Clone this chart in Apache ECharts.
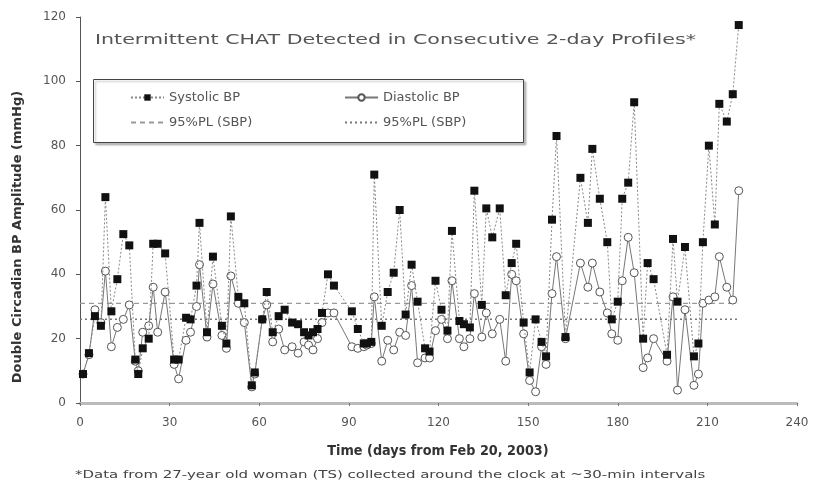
<!DOCTYPE html>
<html>
<head>
<meta charset="utf-8">
<script src="https://cdn.jsdelivr.net/npm/echarts@6/dist/echarts.min.js"></script>
<style>
  html, body { margin: 0; padding: 0; background: #fff; }
  #chart { width: 819px; height: 489px; }
</style>
</head>
<body>
<div id="chart"></div>
<script>
// days since Feb 20, 2003
var days = [1, 3, 5, 7, 8.5, 10.5, 12.5, 14.5, 16.5, 18.5,
  19.5, 21, 23, 24.5, 26, 28.5, 31.5, 33, 35.5, 37,
  39, 40, 42.5, 44.5, 47.5, 49, 50.5, 53, 55, 57.5,
  58.5, 61, 62.5, 64.5, 66.5, 68.5, 71, 73, 75, 76.5,
  78, 79.5, 81, 83, 85, 91, 93, 95, 96, 97.5,
  98.5, 101, 103, 105, 107, 109, 111, 113, 115.5, 117,
  119, 121, 123, 124.5, 127, 128.5, 130.5, 132, 134.5, 136,
  138, 140.5, 142.5, 144.5, 146, 148.5, 150.5, 152.5, 154.5, 156,
  158, 159.5, 162.5, 167.5, 170, 171.5, 174, 176.5, 178, 180,
  181.5, 183.5, 185.5, 188.5, 190, 192, 196.5, 198.5, 200, 202.5,
  205.5, 207, 208.5, 210.5, 212.5, 214, 216.5, 218.5, 220.5];

var systolic = [9, 15.5, 27, 24, 64, 28.5, 38.5, 52.5, 49, 13.5,
  9, 17, 20, 49.5, 49.5, 46.5, 13.5, 13.5, 26.5, 26,
  36.5, 56, 22, 45.5, 24, 18.5, 58, 33, 31, 5.5,
  9.5, 26, 34.5, 22, 27, 29, 25, 24.5, 22, 21,
  22, 23, 28, 40, 36.5, 28.5, 23, 18.5, 18.5, 19,
  71, 24, 34.5, 40.5, 60, 27.5, 43, 31.5, 17, 16,
  38, 29, 22.5, 53.5, 25.5, 24.5, 23.5, 66, 30.5, 60.5,
  51.5, 60.5, 33.5, 43.5, 49.5, 25, 9.5, 26, 19, 14.5,
  57, 83, 20.5, 70, 56, 79, 63.5, 50, 26, 31.5,
  63.5, 68.5, 93.5, 20, 43.5, 38.5, 15, 51, 31.5, 48.5,
  14.5, 18.5, 50, 80, 55.5, 93, 87.5, 96, 117.5];

var diastolic = [9, 15, 29, 25, 41, 17.5, 23.5, 26, 30.5, 13,
  10, 22, 24, 36, 22, 34.5, 12, 7.5, 19.5, 22,
  30, 43, 20.5, 37, 21, 17, 39.5, 31, 25, 5,
  9, 26, 30.5, 19, 23, 16.5, 17.5, 15.5, 19, 18,
  16.5, 20, 25, 28, 28, 17.5, 17, 17.5, 18, 18.5,
  33, 13, 19.5, 16.5, 22, 21, 36.5, 12.5, 14, 14,
  22.5, 26, 20, 38, 20, 17.5, 20, 34, 20.5, 28,
  21.5, 26, 13, 40, 38, 21.5, 7, 3.5, 17.5, 12,
  34, 45.5, 20, 43.5, 36, 43.5, 34.5, 28, 21.5, 19.5,
  38, 51.5, 40.5, 11, 14, 20, 13, 33, 4, 29,
  5.5, 9, 31, 32, 33, 45.5, 36, 32, 66];

// 95th percentile limits (level, drawn from day 0 to last profile)
var plLevels = [31, 26];
var plSpan = [0, 220];

var xTicks = [0, 240, 30];
var yTicks = [0, 120, 20];

var chart = echarts.init(document.getElementById('chart'));

function pairs(vals) {
  return days.map(function (d, i) { return [d, vals[i]]; });
}

var font = 'DejaVu Sans';

// one legend per item so the 2x2 box lines up
function legendItem(item, left, top) {
  return {
    data: [item],
    left: left, top: top, itemGap: 0, itemWidth: 33, itemHeight: 8,
    textStyle: { fontSize: 13, color: '#555', fontFamily: font },
    z: 5
  };
}

var option = {
  animation: false,
  backgroundColor: '#fff',
  textStyle: { fontFamily: font },
  graphic: [
    {
      type: 'rect', left: 93, top: 79,
      shape: { width: 430, height: 63 },
      style: { fill: '#fff', stroke: '#444', lineWidth: 1, shadowColor: 'rgba(0,0,0,0.25)', shadowOffsetX: 2, shadowOffsetY: 2, shadowBlur: 2 },
      z: 1
    },
    {
      type: 'text', x: 95, y: 40, scaleX: 1.42,
      style: { text: 'Intermittent CHAT Detected in Consecutive 2-day Profiles*', fontSize: 14.5, fill: '#555', fontFamily: font, textVerticalAlign: 'middle' }
    },
    {
      type: 'text', x: 18, y: 237, rotation: Math.PI / 2,
      style: { text: 'Double Circadian BP Amplitude (mmHg)', fontSize: 13, fontWeight: 'bold', fill: '#333', fontFamily: font, textAlign: 'center', textVerticalAlign: 'middle' }
    },
    {
      type: 'text', x: 438, y: 451, scaleX: 0.95,
      style: { text: 'Time (days from Feb 20, 2003)', fontSize: 13.5, fontWeight: 'bold', fill: '#333', fontFamily: font, textAlign: 'center', textVerticalAlign: 'middle' }
    },
    {
      type: 'text', x: 75, y: 475, scaleX: 1.5,
      style: { text: '*Data from 27-year old woman (TS) collected around the clock at ~30-min intervals', fontSize: 10, fill: '#444', fontFamily: font, textVerticalAlign: 'middle' }
    }
  ],
  legend: [
    legendItem('Systolic BP', 125, 86),
    legendItem('Diastolic BP', 339, 86),
    legendItem({ name: '95%PL (SBP)', itemStyle: { opacity: 0 } }, 125, 111),
    legendItem({ name: '95%PL (SBP) ', itemStyle: { opacity: 0 } }, 339, 111)
  ],
  grid: { left: 80, right: 22, top: 17, bottom: 86 },
  xAxis: {
    type: 'value',
    min: xTicks[0], max: xTicks[1], interval: xTicks[2],
    axisLine: { lineStyle: { color: '#bbb', width: 3 } },
    axisTick: { show: true, length: 3, lineStyle: { color: '#777' } },
    axisLabel: { fontSize: 12, color: '#555', margin: 14, fontFamily: font },
    splitLine: { show: false }
  },
  yAxis: {
    type: 'value',
    min: yTicks[0], max: yTicks[1], interval: yTicks[2],
    axisLine: { show: true, lineStyle: { color: '#555', width: 1 } },
    axisTick: { show: true, length: 4, lineStyle: { color: '#555' } },
    axisLabel: { fontSize: 12, color: '#555', margin: 14, fontFamily: font },
    splitLine: { show: false }
  },
  series: [
    {
      name: '95%PL (SBP)', type: 'line', symbol: 'none',
      data: [[plSpan[0], plLevels[0]], [plSpan[1], plLevels[0]]],
      lineStyle: { color: '#999', width: 1.2, type: [5, 4] },
      itemStyle: { color: '#999' }, z: 1
    },
    {
      name: '95%PL (SBP) ', type: 'line', symbol: 'none',
      data: [[plSpan[0], plLevels[1]], [plSpan[1], plLevels[1]]],
      lineStyle: { color: '#777', width: 1.5, type: [2, 3] },
      itemStyle: { color: '#777' }, z: 1
    },
    {
      name: 'Diastolic BP', type: 'line',
      data: pairs(diastolic),
      symbol: 'circle', symbolSize: 8,
      lineStyle: { color: '#777', width: 1 },
      itemStyle: { color: '#fff', borderColor: '#555', borderWidth: 1 },
      z: 3
    },
    {
      name: 'Systolic BP', type: 'line',
      data: pairs(systolic),
      symbol: 'rect', symbolSize: 8,
      lineStyle: { color: '#888', width: 1, type: [2, 2] },
      itemStyle: { color: '#111' },
      z: 4
    }
  ]
};

chart.setOption(option);
</script>
</body>
</html>
